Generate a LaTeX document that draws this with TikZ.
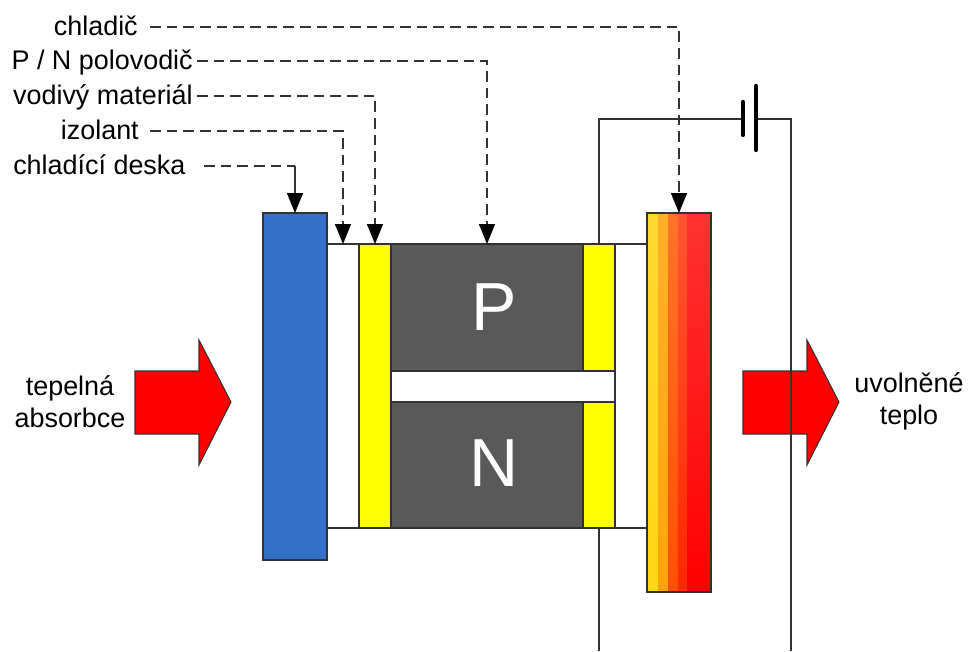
\documentclass[tikz,border=0pt]{standalone}
\usepackage{fontspec}
\setmainfont{Liberation Sans}
\usetikzlibrary{arrows.meta}
\definecolor{edge}{RGB}{50,50,50}
\definecolor{coolblue}{RGB}{51,112,200}
\definecolor{semi}{RGB}{89,89,89}
\definecolor{pureyellow}{RGB}{255,255,0}
\definecolor{purered}{RGB}{255,0,0}
\definecolor{ba}{RGB}{255,215,50}\definecolor{bA}{RGB}{255,215,20}
\definecolor{bb}{RGB}{255,175,40}\definecolor{bB}{RGB}{255,165,10}
\definecolor{bc}{RGB}{255,115,40}\definecolor{bC}{RGB}{255,80,0}
\definecolor{bd}{RGB}{255,85,50}\definecolor{bD}{RGB}{255,40,0}
\definecolor{be}{RGB}{255,50,50}\definecolor{bE}{RGB}{255,0,0}
\tikzset{
  x=0.75pt,y=-0.75pt,
  part/.style={draw=edge,line width=1pt,inner sep=0pt,outer sep=0pt,anchor=north west},
  lbl/.style={font=\fontsize{20.2}{24}\selectfont,inner sep=0pt,text=black},
  big/.style={font=\fontsize{51}{60}\selectfont,text=white,inner sep=0pt},
  lead/.style={draw=edge,line width=1pt,dash pattern=on 8pt off 4.5pt,-{Triangle[length=15pt,width=12pt,black]}},
  leadflat/.style={draw=edge,line width=1pt,dash pattern=on 8pt off 4.5pt},
  leadtail/.style={draw=edge,line width=1pt,-{Triangle[length=15pt,width=12pt,black]}},
  wire/.style={draw=edge,line width=1pt},
  plate/.style={draw=black,line width=3.2pt,line cap=round},
  heat/.style={fill=purered,draw=edge,line width=0.8pt},
}
\newcommand{\bandshade}[4]{\shade[top color=#3,bottom color=#4] (#1,213) rectangle (#2,592);}
\begin{document}
\begin{tikzpicture}
\useasboundingbox (0,0) rectangle (968,651);
% coordinates
\coordinate (wtl) at (599,119);
\coordinate (wtr) at (791,119);
\coordinate (wbl) at (599,651);
\coordinate (wbr) at (791,651);
\coordinate (platea) at (743,119);
\coordinate (plateb) at (756,119);
% arrows
\draw[heat] (135,371) -- (199,371) -- (199,340) -- (231,402) -- (199,465) -- (199,434) -- (135,434) -- cycle;
\draw[heat] (743,371) -- (807,371) -- (807,340) -- (839,402) -- (807,465) -- (807,434) -- (743,434) -- cycle;
% insulators and plates
\node[part,fill=white,minimum width=32*0.75pt,minimum height=284*0.75pt] (iso) at (327,244) {};
\node[part,fill=white,minimum width=32*0.75pt,minimum height=284*0.75pt] (isor) at (615,244) {};
\node[part,fill=coolblue,minimum width=64*0.75pt,minimum height=347*0.75pt] (cold) at (263,213) {};
\node[part,fill=pureyellow,minimum width=32*0.75pt,minimum height=284*0.75pt] (cond) at (359,244) {};
\node[part,fill=semi,minimum width=192*0.75pt,minimum height=127*0.75pt] (pp) at (391,244) {};
\node[part,fill=semi,minimum width=192*0.75pt,minimum height=126*0.75pt] (nn) at (391,402) {};
\node[part,fill=pureyellow,minimum width=32*0.75pt,minimum height=127*0.75pt] (condp) at (583,244) {};
\node[part,fill=pureyellow,minimum width=32*0.75pt,minimum height=126*0.75pt] (condn) at (583,402) {};
\node[part,fill=white,minimum width=224*0.75pt,minimum height=31*0.75pt] (gap) at (391,371) {};
\node[big] at ([xshift=5.5pt,yshift=0.5pt]pp.center) {P};
\node[big] at ([xshift=5.5pt,yshift=1.5pt]nn.center) {N};
% hot sink
\bandshade{647}{658}{ba}{bA}
\bandshade{658}{668}{bb}{bB}
\bandshade{668}{678}{bc}{bC}
\bandshade{678}{687}{bd}{bD}
\bandshade{687}{711}{be}{bE}
\node[part,minimum width=64*0.75pt,minimum height=379*0.75pt] (hot) at (647,213) {};
% wires
\draw[wire] (condp.north) -- (wtl) -- (platea);
\draw[wire] (plateb) -- (wtr) -- (wbr);
\draw[wire] (condn.south) -- (wbl);
\draw[plate] (743,102) -- (743,135);
\draw[plate] (756,86) -- (756,150);
% labels
\node[lbl,anchor=base east] (lcool) at (138,35) {chladič};
\node[lbl,anchor=base east] (lsemi) at (193,69) {P / N polovodič};
\node[lbl,anchor=base east] (lcond) at (193,104) {vodivý materiál};
\node[lbl,anchor=base east] (liso) at (139,139) {izolant};
\node[lbl,anchor=base west] (lcold) at (13,174) {chladící deska};
\node[lbl,align=center] (labs) at (70,402) {tepelná\\absorbce};
\node[lbl,align=center] (lrel) at (909,401) {uvolněné\\teplo};
% leaders
\coordinate (sa) at (150,27);
\coordinate (sb) at (197,61);
\coordinate (sc) at (197,96);
\coordinate (sd) at (150,131);
\coordinate (se) at (204,166);
\coordinate (ce) at (295,166);
\draw[lead] (sa) -| (hot.north);
\draw[lead] (sb) -| (pp.north);
\draw[lead] (sc) -| (cond.north);
\draw[lead] (sd) -| (iso.north);
\draw[leadflat] (se) -- (ce);
\draw[leadtail] (ce) -- (cold.north);
\end{tikzpicture}
\end{document}
